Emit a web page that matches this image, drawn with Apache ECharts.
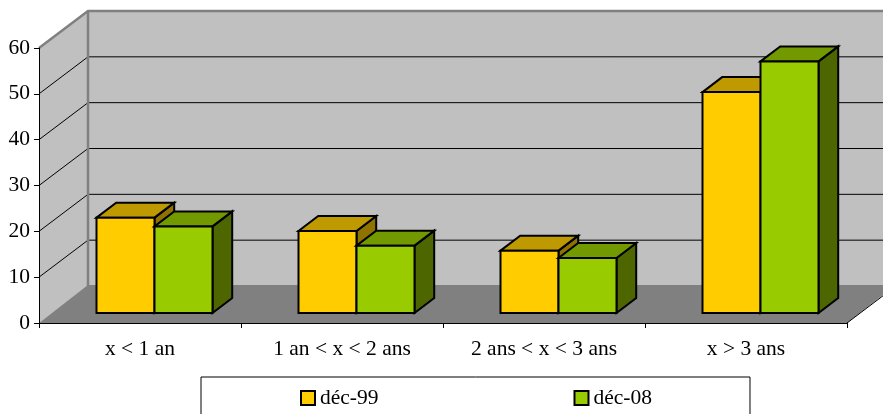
<!DOCTYPE html>
<html><head><meta charset="utf-8">
<style>html,body{margin:0;padding:0;background:#fff}#c{width:883px;height:414px}</style>
<script src="https://cdn.jsdelivr.net/npm/echarts@6/dist/echarts.min.js"></script>
</head><body><div id="c"></div>
<script>
const categories = ['x < 1 an', '1 an < x < 2 ans', '2 ans < x < 3 ans', 'x > 3 ans'];
const dec99 = [20.8, 17.9, 13.6, 48.2];
const dec08 = [18.9, 14.7, 12.0, 54.9];
const yTicks = [10, 20, 30, 40, 50];
const yMax = 60;
const FONT = '"Liberation Serif", serif';
const WALL_DX = 49, WALL_DY = -37;      // depth of the chart box
const BAR_SHIFT_X = 14.5, BAR_SHIFT_Y = -10; // position of bars within the depth
const BAR_W = 58, BAR_DX = 19.7, BAR_DY = -15;

const chart = echarts.init(document.getElementById('c'), null, {renderer:'canvas'});

function renderWalls(params, api) {
  const cs = params.coordSys;
  const x0 = cs.x, x1 = cs.x + cs.width;
  const y0 = api.coord([0, 0])[1], yT = api.coord([0, yMax])[1];
  const kids = [];
  const gray = '#808080';
  kids.push({type:'polygon', shape:{points:[[x0,y0],[x0+WALL_DX,y0+WALL_DY],[x0+WALL_DX,yT+WALL_DY],[x0,yT]]}, style:{fill:'#C0C0C0'}});
  kids.push({type:'rect', shape:{x:x0+WALL_DX,y:yT+WALL_DY,width:x1-x0,height:y0-yT}, style:{fill:'#C0C0C0'}});
  kids.push({type:'polygon', shape:{points:[[x0,y0],[x0+WALL_DX,y0+WALL_DY-1],[x1+WALL_DX,y0+WALL_DY-1],[x1,y0]]}, style:{fill:'#808080'}});
  yTicks.forEach(v => {
    const y = api.coord([0, v])[1];
    kids.push({type:'polyline', shape:{points:[[x0,y],[x0+WALL_DX,y+WALL_DY],[x1+WALL_DX,y+WALL_DY]]}, style:{fill:'none',stroke:'#000',lineWidth:1}});
  });
  kids.push({type:'line', shape:{x1:x0+WALL_DX,y1:yT+WALL_DY,x2:x0+WALL_DX,y2:y0+WALL_DY}, style:{stroke:gray,lineWidth:2.5}});
  kids.push({type:'polyline', shape:{points:[[x0,yT],[x0+WALL_DX,yT+WALL_DY],[x1+WALL_DX,yT+WALL_DY]]}, style:{fill:'none',stroke:gray,lineWidth:2.5}});
  kids.push({type:'line', shape:{x1:x1,y1:y0,x2:x1+WALL_DX,y2:y0+WALL_DY}, style:{stroke:'#000',lineWidth:1}});
  return {type:'group', children:kids};
}

function barRenderer(left, front, top, side) {
  return function (params, api) {
    const cat = api.value(0), val = api.value(1);
    const c = api.coord([cat, val]), b = api.coord([cat, 0]);
    const x = c[0] + BAR_SHIFT_X + left * BAR_W;
    const yt = c[1] + BAR_SHIFT_Y, yb = b[1] + BAR_SHIFT_Y;
    const common = {stroke:'#000', lineWidth:2, lineJoin:'miter'};
    return {type:'group', children:[
      {type:'polygon', shape:{points:[[x+BAR_W,yt],[x+BAR_W+BAR_DX,yt+BAR_DY],[x+BAR_W+BAR_DX,yb+BAR_DY],[x+BAR_W,yb]]}, style:Object.assign({fill:side},common)},
      {type:'polygon', shape:{points:[[x,yt],[x+BAR_DX,yt+BAR_DY],[x+BAR_W+BAR_DX,yt+BAR_DY],[x+BAR_W,yt]]}, style:Object.assign({fill:top},common)},
      {type:'rect', shape:{x:x,y:yt,width:BAR_W,height:yb-yt}, style:Object.assign({fill:front},common)}
    ]};
  };
}

chart.setOption({
  animation:false,
  grid:{left:39, right:36, top:48, bottom:91, containLabel:false},
  xAxis:{type:'category', data:categories, z:5,
    axisLine:{show:true, lineStyle:{color:'#000',width:1}},
    axisTick:{show:true, alignWithLabel:false, length:5, lineStyle:{color:'#000'}},
    axisLabel:{color:'#000', fontFamily:FONT, fontSize:21.5, margin:15, interval:0}
  },
  yAxis:{type:'value', min:0, max:yMax, interval:10, z:5,
    axisLine:{show:true, lineStyle:{color:'#000',width:1}},
    axisTick:{show:true, length:5, lineStyle:{color:'#000'}},
    axisLabel:{color:'#000', fontFamily:FONT, fontSize:21.5, margin:9, padding:[2,0,0,0]},
    splitLine:{show:false}
  },
  legend:{
    left:201, top:377,
    data:['déc-99','déc-08'],
    orient:'horizontal',
    padding:[10,98,40,99],
    itemGap:195, itemWidth:14, itemHeight:14,
    borderColor:'#000', borderWidth:1, backgroundColor:'#fff',
    icon:'rect',
    itemStyle:{borderColor:'#000', borderWidth:2},
    textStyle:{color:'#000', fontFamily:FONT, fontSize:21.5}
  },
  series:[
    {name:'walls', type:'custom', coordinateSystem:'cartesian2d', data:[[0,0]], renderItem:renderWalls, silent:true, z:1, clip:false},
    {name:'déc-99', type:'custom', coordinateSystem:'cartesian2d', itemStyle:{color:'#FFCC00'},
      data:dec99.map((v,i)=>[i,v]), encode:{x:0,y:1}, z:2, clip:false,
      renderItem:barRenderer(-1,'#FFCC00','#BF9900','#8F7300')},
    {name:'déc-08', type:'custom', coordinateSystem:'cartesian2d', itemStyle:{color:'#99CC00'},
      data:dec08.map((v,i)=>[i,v]), encode:{x:0,y:1}, z:3, clip:false,
      renderItem:barRenderer(0,'#99CC00','#739900','#4D6600')}
  ]
});
</script></body></html>
